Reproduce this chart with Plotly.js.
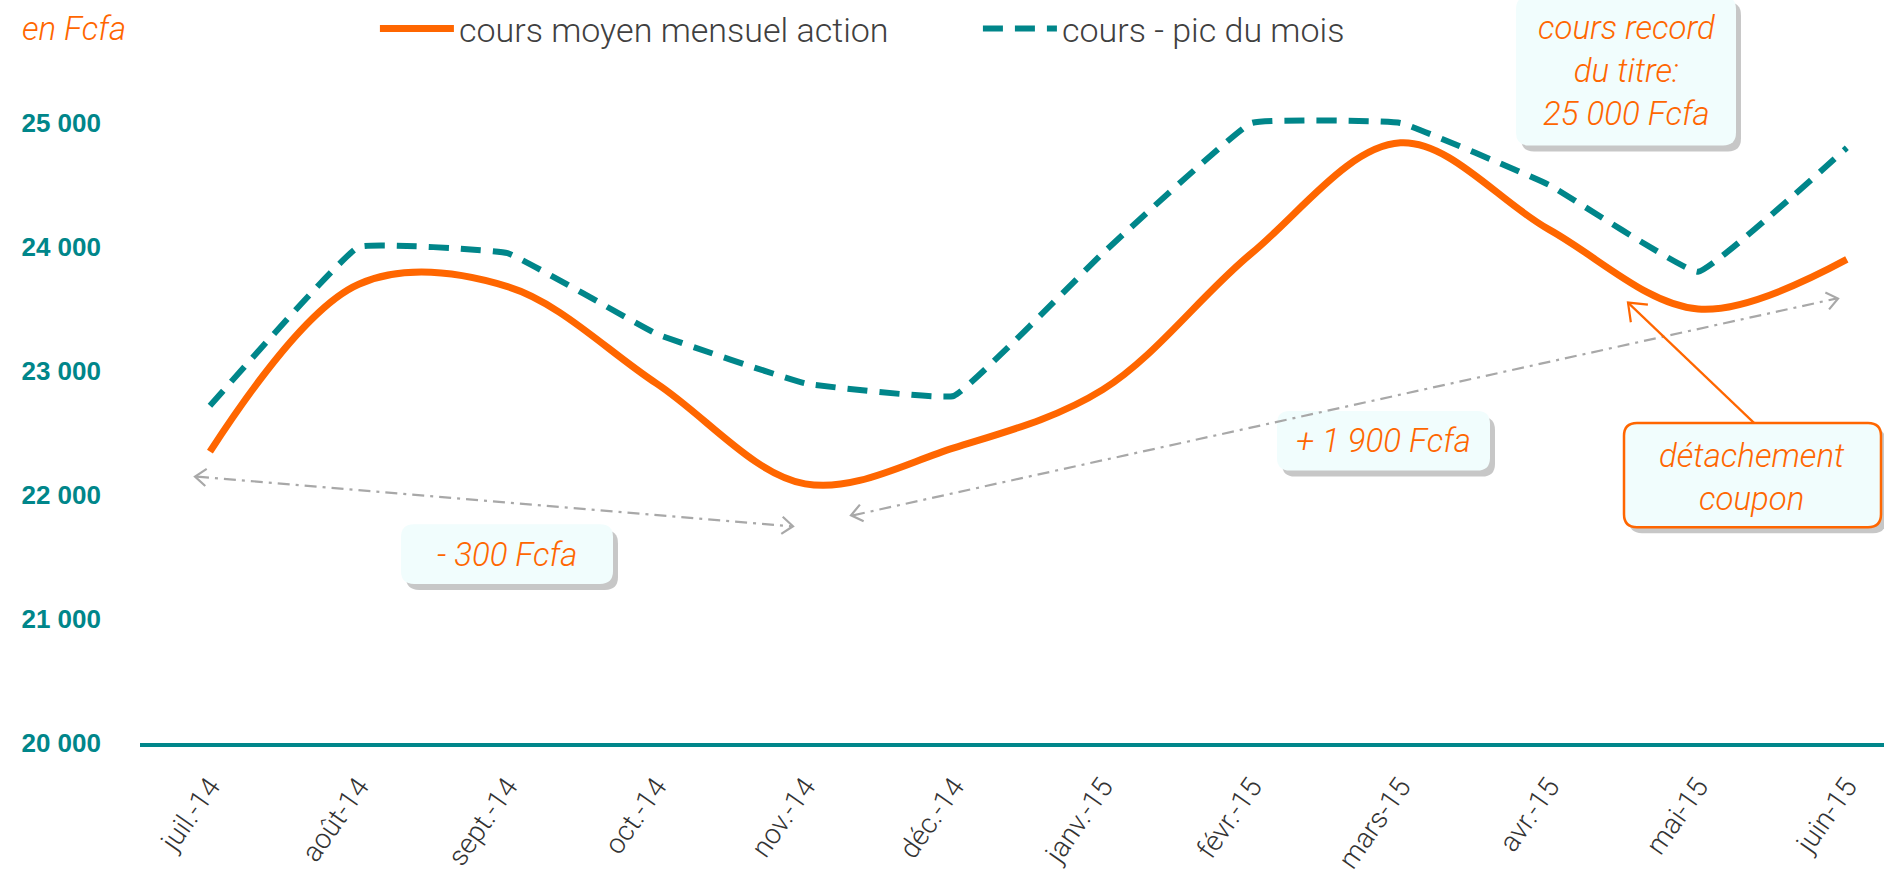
<!DOCTYPE html>
<html>
<head>
<meta charset="utf-8">
<script src="https://cdn.plot.ly/plotly-3.0.1.min.js"></script>
<style>html,body{margin:0;padding:0;background:#fff;}#chart{width:1884px;height:880px;}</style>
</head>
<body>
<div id="chart"></div>
<script>
// ---- data ----
const months = ["juil.-14","août-14","sept.-14","oct.-14","nov.-14","déc.-14","janv.-15","févr.-15","mars-15","avr.-15","mai-15","juin-15"];
const coursMoyen = [22350, 23700, 23680, 22900, 22090, 22380, 22850, 23950, 24840, 24140, 23500, 23900];
const coursPic   = [22720, 24000, 23950, 23300, 22900, 22800, 23950, 25000, 25000, 24500, 23800, 24800];
const yTickVals  = [20000, 21000, 22000, 23000, 24000, 25000];
const yTickText  = ["20 000", "21 000", "22 000", "23 000", "24 000", "25 000"];
const seriesNames = ["cours moyen mensuel action", "cours - pic du mois"];

// ---- layout helpers (pixel -> paper) ----
const ML = 140, MT = 57, PW = 1744, PH = 686;
function P(x, y) { return [(x - ML) / PW, (MT + PH - y) / PH]; }
function pt(x, y) { const p = P(x, y); return p[0].toFixed(5) + "," + p[1].toFixed(5); }
function roundRect(x0, y0, x1, y1, r) {
  return "M" + pt(x0 + r, y0) + " L" + pt(x1 - r, y0) + " Q" + pt(x1, y0) + " " + pt(x1, y0 + r) +
    " L" + pt(x1, y1 - r) + " Q" + pt(x1, y1) + " " + pt(x1 - r, y1) +
    " L" + pt(x0 + r, y1) + " Q" + pt(x0, y1) + " " + pt(x0, y1 - r) +
    " L" + pt(x0, y0 + r) + " Q" + pt(x0, y0) + " " + pt(x0 + r, y0) + " Z";
}
function chevron(tx, ty, fx, fy, len, color, width) {
  const dx = tx - fx, dy = ty - fy, n = Math.hypot(dx, dy);
  const ux = dx / n, uy = dy / n, a = 38 * Math.PI / 180;
  const r1x = ux * Math.cos(a) - uy * Math.sin(a), r1y = ux * Math.sin(a) + uy * Math.cos(a);
  const r2x = ux * Math.cos(-a) - uy * Math.sin(-a), r2y = ux * Math.sin(-a) + uy * Math.cos(-a);
  return {type: "path", xref: "paper", yref: "paper",
    path: "M" + pt(tx - len * r1x, ty - len * r1y) + " L" + pt(tx, ty) + " L" + pt(tx - len * r2x, ty - len * r2y),
    line: {color: color, width: width}};
}
function lineShape(x0, y0, x1, y1, color, width, dash) {
  const a = P(x0, y0), b = P(x1, y1);
  return {type: "line", xref: "paper", yref: "paper", x0: a[0], y0: a[1], x1: b[0], y1: b[1],
    line: {color: color, width: width, dash: dash}};
}

const ORANGE = "#FF6600", TEAL = "#00868A", GRAY = "#A8A8A8", BOXFILL = "#F1FDFD";
const shapes = [];
const boxes = [
  {x0: 1516, y0: -8, x1: 1736, y1: 142, border: false},
  {x0: 401, y0: 523, x1: 613, y1: 583, border: false},
  {x0: 1277, y0: 409, x1: 1490, y1: 469, border: false},
  {x0: 1624, y0: 421, x1: 1881, y1: 526, border: true}
];
boxes.forEach(b => {
  shapes.push({type: "path", xref: "paper", yref: "paper", path: roundRect(b.x0 + 5, b.y0 + 6, b.x1 + 5, b.y1 + 6, 13),
    fillcolor: "rgba(0,0,0,0.22)", line: {width: 0}});
});
boxes.forEach(b => {
  shapes.push({type: "path", xref: "paper", yref: "paper", path: roundRect(b.x0, b.y0, b.x1, b.y1, 13),
    fillcolor: BOXFILL, line: {color: b.border ? ORANGE : "rgba(0,0,0,0)", width: b.border ? 2.5 : 0}});
});
// gray dash-dot double arrows
const dd = "12px,6px,3px,6px";
shapes.push(lineShape(197, 475, 791, 525, GRAY, 2.2, dd));
shapes.push(chevron(195, 475, 791, 525, 14, GRAY, 2.2));
shapes.push(chevron(793, 525, 197, 475, 14, GRAY, 2.2));
shapes.push(lineShape(853, 514, 1836, 296, GRAY, 2.2, dd));
shapes.push(chevron(851, 514, 1836, 296, 14, GRAY, 2.2));
shapes.push(chevron(1838, 296, 853, 514, 14, GRAY, 2.2));
// orange callout arrow
shapes.push(lineShape(1754, 421, 1628, 300, ORANGE, 2.2, "solid"));
shapes.push(chevron(1628, 300, 1754, 421, 20, ORANGE, 2.2));

const noteFont = {family: "Roboto, 'Liberation Sans', sans-serif", size: 33, color: ORANGE, style: "italic", weight: 300};
function note(text, x, y, anchor) {
  const p = P(x, y);
  return {xref: "paper", yref: "paper", x: p[0], y: p[1], text: text, showarrow: false,
    xanchor: anchor || "center", yanchor: "middle", font: noteFont, align: "center"};
}
const annotations = [
  note("en Fcfa", 20, 24, "left"),
  note("cours record<br>du titre:<br>25 000 Fcfa", 1626, 67),
  note("- 300 Fcfa", 507, 553),
  note("+ 1 900 Fcfa", 1383, 439),
  note("détachement<br>coupon", 1752, 475)
];

const traces = [
  {x: months, y: coursMoyen, name: seriesNames[0], type: "scatter", mode: "lines",
   line: {color: ORANGE, width: 7, shape: "spline", smoothing: 1}},
  {x: months, y: coursPic, name: seriesNames[1], type: "scatter", mode: "lines",
   line: {color: TEAL, width: 6, dash: "20px,12px", shape: "spline", smoothing: 0.25}}
];

const layout = {
  width: 1884, height: 880,
  margin: {l: ML, r: 0, t: MT, b: 880 - MT - PH},
  paper_bgcolor: "#fff", plot_bgcolor: "#fff",
  showlegend: true,
  legend: {orientation: "h", x: 0.1347, xanchor: "left", y: 1.047, yanchor: "middle",
    font: {family: "Roboto, 'Liberation Sans', sans-serif", size: 34, color: "#404040", weight: 300},
    entrywidth: 514, entrywidthmode: "pixels", bgcolor: "rgba(0,0,0,0)", itemwidth: 74},
  xaxis: {type: "category", range: [-0.47, 11.25], showgrid: false, zeroline: false,
    showline: true, linecolor: TEAL, linewidth: 4, ticks: "", tickangle: -55,
    ticklabelstandoff: 12,
    tickfont: {family: "Roboto, 'Liberation Sans', sans-serif", size: 28, color: "#333", weight: 300}},
  yaxis: {range: [20000, 25500], tickvals: yTickVals, ticktext: yTickText, showgrid: false,
    zeroline: false, showline: false, ticks: "", ticklabelstandoff: 38,
    tickfont: {family: "'Liberation Sans', Arial, sans-serif", size: 26, color: TEAL, weight: 700}},
  shapes: shapes,
  annotations: annotations,
  hovermode: false
};

Plotly.newPlot("chart", traces, layout, {displayModeBar: false, staticPlot: true});
</script>
</body>
</html>
